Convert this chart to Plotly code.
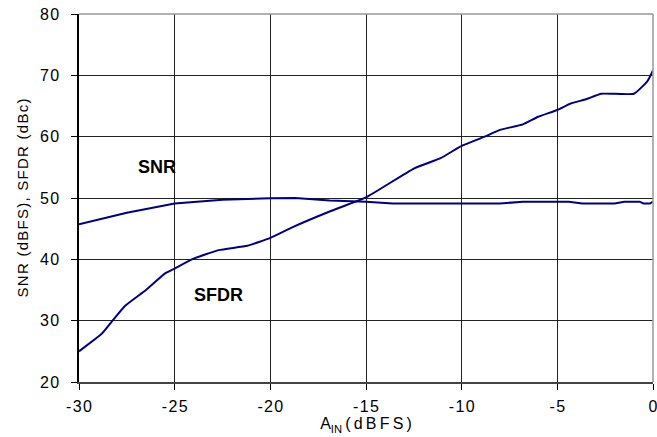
import plotly.graph_objects as go

# Data
snr_x = [-30, -27.5, -25, -22.5, -20, -18.7, -16.9, -15, -13.6, -8.0, -6.8, -4.4, -3.7, -2.0, -1.5, -0.7, -0.5, -0.16, 0]
snr_y = [45.7, 47.6, 49.1, 49.7, 49.95, 50.0, 49.6, 49.4, 49.1, 49.1, 49.4, 49.4, 49.1, 49.1, 49.4, 49.4, 49.1, 49.1, 49.4]

sfdr_x = [-30, -28.8, -28.3, -27.6, -26.5, -25.5, -25, -24.1, -22.7, -21.2, -20, -18.8, -16.9, -15, -12.5, -11.1, -10,
          -8.8, -8.0, -6.8, -6.0, -5.0, -4.3, -3.5, -2.7, -1.0, -0.3, 0]
sfdr_y = [25.0, 27.9, 29.8, 32.4, 35.0, 37.7, 38.5, 40.0, 41.5, 42.2, 43.5, 45.3, 47.8, 50.1, 54.8, 56.5, 58.5,
          60.0, 61.1, 62.0, 63.25, 64.35, 65.4, 66.1, 67.0, 67.0, 69.0, 70.8]

x_ticks = [-30, -25, -20, -15, -10, -5, 0]
x_tick_labels = ["-30", "-25", "-20", "-15", "-10", "-5", "0"]
y_ticks = [20, 30, 40, 50, 60, 70, 80]
y_tick_labels = ["20", "30", "40", "50", "60", "70", "80"]

labels = ["SNR", "SFDR"]
label_x = [-25.9, -22.7]
label_y = [55.0, 34.2]

hs = "\u200a"  # hair space to mimic letter spacing
ts = "\u2009"  # thin space
def spaced(s, sep=hs):
    return sep.join(s)

LINE = "#000080"
FONT = "Liberation Sans, Arial, sans-serif"

fig = go.Figure()
fig.add_trace(go.Scatter(x=snr_x, y=snr_y, mode="lines", line=dict(color=LINE, width=2), name="SNR"))
fig.add_trace(go.Scatter(x=sfdr_x, y=sfdr_y, mode="lines",
                         line=dict(color=LINE, width=2, shape="spline", smoothing=0.4), name="SFDR"))

for t, lx, ly in zip(labels, label_x, label_y):
    fig.add_annotation(x=lx, y=ly, text="<b>" + t + "</b>", showarrow=False,
                       font=dict(family=FONT, size=18, color="black"))

# gray top and right border
fig.add_shape(type="line", xref="paper", yref="paper", x0=0, x1=1, y0=1, y1=1,
              line=dict(color="#999999", width=1.5), layer="above")
fig.add_shape(type="line", xref="paper", yref="paper", x0=1, x1=1, y0=0, y1=1,
              line=dict(color="#999999", width=1.5), layer="above")

fig.update_layout(
    width=657, height=437,
    margin=dict(l=79, r=4, t=14, b=55, autoexpand=False),
    paper_bgcolor="white", plot_bgcolor="white",
    showlegend=False,
    font=dict(family=FONT, size=16, color="black"),
    xaxis=dict(range=[-30, 0], tickvals=x_ticks, ticktext=[spaced(s) for s in x_tick_labels],
               showgrid=True, gridcolor="#222222", gridwidth=1,
               showline=True, linecolor="#444444", linewidth=2,
               ticks="outside", ticklen=6, tickcolor="black", tickwidth=1,
               zeroline=False, ticklabelstandoff=3, ticklabeloverflow="allow", automargin=False,
               tickfont=dict(size=16),
               title=dict(text=spaced("A", ts) + "<sub>IN</sub>" + ts + spaced("(dBFS)", ts), standoff=0,
                          font=dict(size=16))),
    yaxis=dict(range=[20, 80], tickvals=y_ticks, ticktext=[spaced(s) for s in y_tick_labels],
               showgrid=True, gridcolor="#222222", gridwidth=1,
               showline=True, linecolor="black", linewidth=1.5,
               ticks="outside", ticklen=6, tickcolor="black", tickwidth=1,
               zeroline=False, ticklabelstandoff=9, ticklabeloverflow="allow", automargin=False,
               tickfont=dict(size=16),
               title=dict(text=spaced("SNR (dBFS), SFDR (dBc)"), standoff=8,
                          font=dict(size=15))),
)

fig.write_html("out.html", config={"displayModeBar": False},
               post_script="document.body.style.margin='0';document.body.style.overflow='hidden';")
